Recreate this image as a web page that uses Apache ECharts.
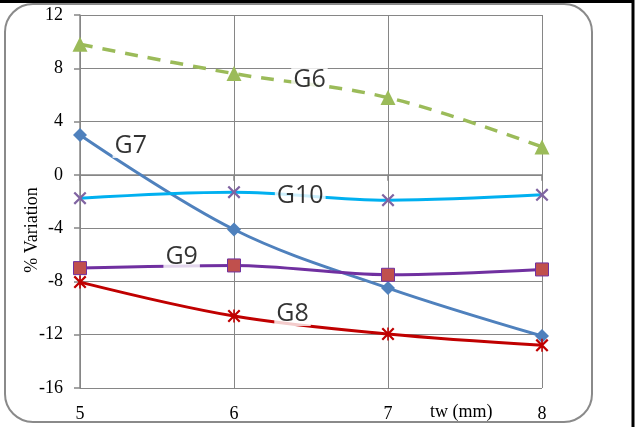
<!DOCTYPE html>
<html>
<head>
<meta charset="utf-8">
<script src="https://cdn.jsdelivr.net/npm/echarts@6/dist/echarts.min.js"></script>
<style>html,body{margin:0;padding:0;background:#fff;}#c{width:637px;height:427px;}</style>
</head>
<body>
<div id="c"></div>
<script>
const xValues = [5, 6, 7, 8];
const g6 = [9.8, 7.6, 5.8, 2.1];
const g7 = [3.0, -4.1, -8.5, -12.1];
const g10 = [-1.75, -1.3, -1.9, -1.5];
const g9 = [-7.0, -6.8, -7.5, -7.1];
const g8 = [-8.05, -10.6, -11.95, -12.8];
const yTicks = [-16, -12, -8, -4, 0, 4, 8, 12];
const labelPoints = [[6.49, 7.1, 'G6'], [5.33, 2.2, 'G7'], [6.43, -1.6, 'G10'], [5.66, -6.15, 'G9'], [6.38, -10.4, 'G8']];

const pair = a => a.map((v, i) => [xValues[i], v]);
const xPath = 'path://M0,1.2L1.2,0L5,3.8L8.8,0L10,1.2L6.2,5L10,8.8L8.8,10L5,6.2L1.2,10L0,8.8L3.8,5Z';
const starPath = 'path://M0,1.2L1.2,0L5,3.8L8.8,0L10,1.2L6.2,5L10,8.8L8.8,10L5,6.2L1.2,10L0,8.8L3.8,5Z M4.4,0L5.6,0L5.6,10L4.4,10Z';
const serif = '"Liberation Serif", "DejaVu Serif", serif';

const chart = echarts.init(document.getElementById('c'));
chart.setOption({
  animation: false,
  backgroundColor: '#fff',
  grid: { left: 80, right: 95, top: 15, bottom: 39 },
  xAxis: {
    type: 'value', min: 5, max: 8, interval: 1,
    axisLine: { show: true, lineStyle: { color: '#868686', width: 1.5 } },
    axisTick: { show: true, length: 6, lineStyle: { color: '#868686', width: 1.5 } },
    splitLine: { show: true, lineStyle: { color: '#868686', width: 1 } },
    axisLabel: { color: '#000', fontFamily: serif, fontSize: 18, margin: 17 }
  },
  yAxis: {
    type: 'value', min: yTicks[0], max: yTicks[yTicks.length - 1], interval: 4,
    axisLine: { show: true, lineStyle: { color: '#868686', width: 1.5 } },
    axisTick: { show: true, length: 6, lineStyle: { color: '#868686', width: 1.5 } },
    splitLine: { show: true, lineStyle: { color: '#868686', width: 1 } },
    axisLabel: { color: '#000', fontFamily: serif, fontSize: 18, margin: 17 }
  },
  series: [
    { name: 'G6', type: 'line', data: pair(g6), smooth: 0.35, symbol: 'triangle', symbolSize: 15,
      lineStyle: { color: '#9BBB59', width: 3.5, type: [13, 10] }, itemStyle: { color: '#9BBB59' }, z: 3 },
    { name: 'G7', type: 'line', data: pair(g7), smooth: 0.35, symbol: 'diamond', symbolSize: 14,
      lineStyle: { color: '#4F81BD', width: 3 }, itemStyle: { color: '#4F81BD' }, z: 3 },
    { name: 'G10', type: 'line', data: pair(g10), smooth: 0.35, symbol: xPath, symbolSize: 13,
      lineStyle: { color: '#00B0F0', width: 3 }, itemStyle: { color: '#8064A2' }, z: 3 },
    { name: 'G9', type: 'line', data: pair(g9), smooth: 0.35, symbol: 'rect', symbolSize: 13,
      lineStyle: { color: '#7030A0', width: 3 }, itemStyle: { color: '#C0504D', borderColor: '#7030A0', borderWidth: 1 }, z: 3 },
    { name: 'G8', type: 'line', data: pair(g8), smooth: 0.35, symbol: starPath, symbolSize: 13,
      lineStyle: { color: '#C00000', width: 3 }, itemStyle: { color: '#C00000' }, z: 3 },
    { name: 'labels', type: 'scatter', data: labelPoints, symbolSize: 0, z: 10,
      label: { show: true, position: 'inside', formatter: p => p.data[2], color: '#000',
        fontFamily: '"Open Sans", "Liberation Sans", sans-serif', fontSize: 25,
        backgroundColor: '#fff', padding: [0, 2] } }
  ],
  graphic: [
    { type: 'rect', shape: { x: 5, y: 4, width: 587, height: 418, r: 28 },
      style: { fill: 'none', stroke: '#8a8a8a', lineWidth: 2 }, z: -1 },
    { type: 'text', x: 32, y: 230, rotation: Math.PI / 2,
      style: { text: '% Variation', fill: '#000', font: '18px ' + serif, align: 'center', verticalAlign: 'middle' } },
    { type: 'text', x: 430, y: 403, style: { text: 'tw (mm)', fill: '#000', font: '18px ' + serif } },
    { type: 'line', shape: { x1: 0, y1: 1.5, x2: 634, y2: 1.5 }, style: { stroke: '#000', lineWidth: 3 } },
    { type: 'line', shape: { x1: 633, y1: 0, x2: 633, y2: 427 }, style: { stroke: '#000', lineWidth: 3 } }
  ]
});
</script>
</body>
</html>
